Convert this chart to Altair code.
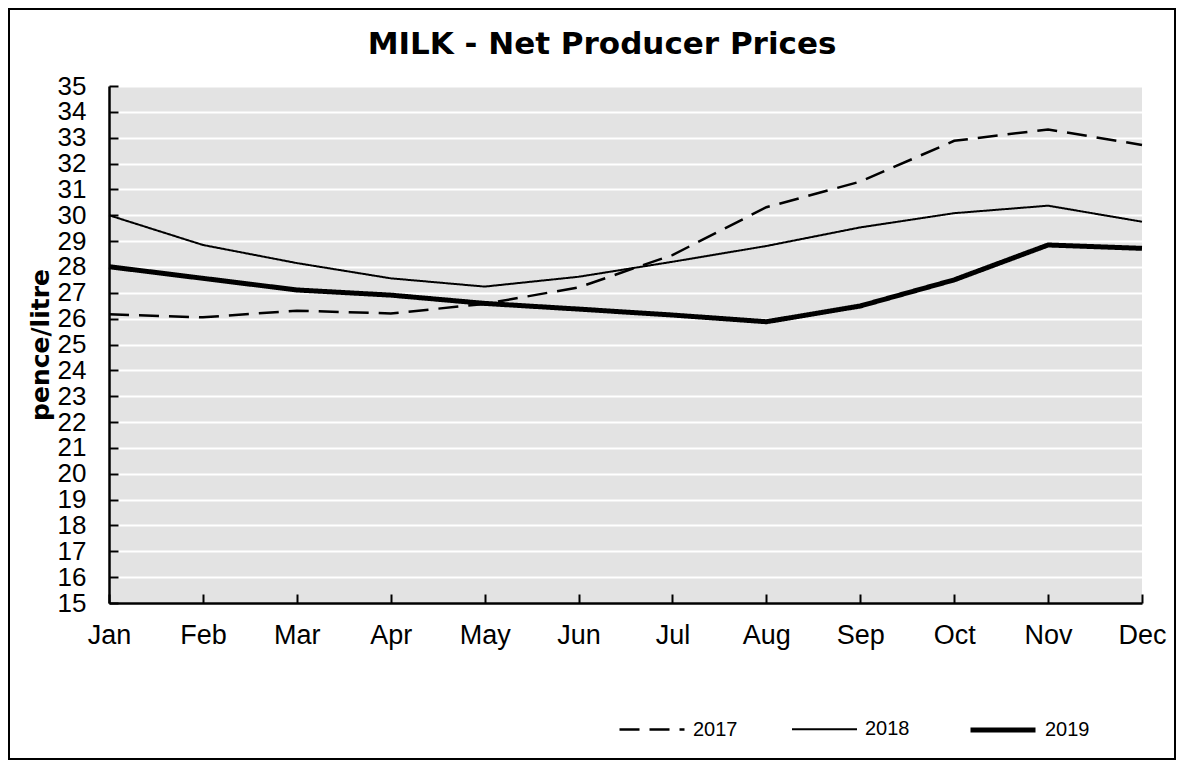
import altair as alt
import pandas as pd

months = ["Jan", "Feb", "Mar", "Apr", "May", "Jun", "Jul", "Aug", "Sep", "Oct", "Nov", "Dec"]
years = ["2017", "2018", "2019"]
p2017 = [26.17, 26.05, 26.31, 26.20, 26.57, 27.21, 28.46, 30.31, 31.30, 32.88, 33.32, 32.72]
p2018 = [30.00, 28.85, 28.15, 27.56, 27.24, 27.62, 28.20, 28.81, 29.53, 30.08, 30.37, 29.75]
p2019 = [28.01, 27.56, 27.11, 26.91, 26.59, 26.37, 26.14, 25.88, 26.49, 27.50, 28.85, 28.72]
y_ticks = list(range(15, 36))
chart_title = "MILK - Net Producer Prices"
y_title = "pence/litre"

rows = []
for yr, vals in zip(years, [p2017, p2018, p2019]):
    for m, v in zip(months, vals):
        rows.append({"month": m, "year": yr, "price": v})
df = pd.DataFrame(rows)
title_df = pd.DataFrame({"t": [chart_title]})

W, H = 1033, 517

x_scale = alt.Scale(type="point", padding=0, domain=months)
y_scale = alt.Scale(domain=[15, 35], nice=False, zero=False)

leg = dict(
    title=None, orient="none", legendX=509, legendY=609, direction="horizontal",
    symbolType="stroke", symbolSize=4225, symbolStrokeColor="black",
    labelFont="Liberation Sans", labelFontSize=20, labelColor="black",
    labelOffset=7, columnPadding=50, padding=0,
)

lines = alt.Chart(df).mark_line(color="black").encode(
    x=alt.X("month:O", sort=months, scale=x_scale,
            axis=alt.Axis(orient="bottom", title=None, labelAngle=0,
                          labelFont="Liberation Sans", labelFontSize=27, labelColor="black",
                          labelPadding=19, ticks=False, tickSize=0, domain=True,
                          domainColor="black", domainWidth=2.5, grid=False,
                          labelOverlap=False, labelFlush=False)),
    y=alt.Y("price:Q", scale=y_scale,
            axis=alt.Axis(orient="left", values=y_ticks, title=y_title,
                          titleFont="DejaVu Sans", titleFontSize=25, titleFontWeight="bold",
                          titleColor="black", titlePadding=4,
                          labelFont="Liberation Sans", labelFontSize=26, labelColor="black",
                          labelPadding=23, ticks=False, tickSize=0,
                          domainColor="black", domainWidth=2.5,
                          grid=True, gridColor="white", gridWidth=2,
                          labelOverlap=False, labelFlush=False)),
    strokeDash=alt.StrokeDash("year:N", scale=alt.Scale(type="ordinal", domain=years,
                                                        range=[[20, 10], [1, 0], [1, 0]]),
                              legend=alt.Legend(**leg)),
    strokeWidth=alt.StrokeWidth("year:N", scale=alt.Scale(type="ordinal", domain=years,
                                                          range=[2.5, 2, 5]),
                                legend=alt.Legend(**leg)),
)

ticks = alt.Chart(df).mark_point(opacity=0).encode(
    x=alt.X("month:O", sort=months, scale=x_scale,
            axis=alt.Axis(orient="top", offset=-H, title=None, labels=False, domain=False,
                          grid=False, ticks=True, tickSize=9, tickWidth=2, tickColor="black")),
    y=alt.Y("price:Q", scale=y_scale,
            axis=alt.Axis(orient="right", offset=-W, values=y_ticks, title=None, labels=False,
                          domain=False, grid=False, ticks=True, tickSize=9, tickWidth=2,
                          tickColor="black")),
)

title_mark = alt.Chart(title_df).mark_text(
    font="DejaVu Sans", fontWeight="bold", fontSize=31, color="black",
    align="center", baseline="alphabetic"
).encode(text="t:N", x=alt.value(493), y=alt.value(-32))

frame = alt.Chart(title_df).mark_rect(
    fill="white", fillOpacity=0, stroke="black", strokeWidth=2
).encode(x=alt.value(-100), x2=alt.value(1066), y=alt.value(-77), y2=alt.value(673))

chart = alt.layer(frame, lines, ticks, title_mark).resolve_axis(
    x="independent", y="independent"
).properties(width=W, height=H, padding=0).configure_view(fill="#e3e3e3", strokeWidth=0)

chart.save("out.html", embed_options={"renderer": "svg", "actions": False})
